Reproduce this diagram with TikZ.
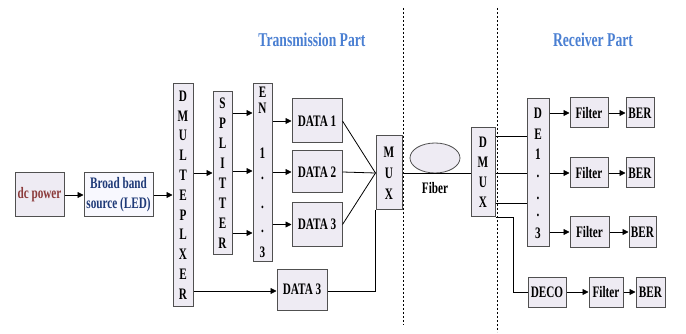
\documentclass[tikz,border=0pt]{standalone}
\usepackage{fontspec}
\setmainfont{Liberation Serif}[FakeStretch=0.7]
\usetikzlibrary{arrows.meta,shapes.geometric}
\definecolor{boxfill}{HTML}{EEEBF3}
\definecolor{boxline}{HTML}{505050}
\definecolor{titleblue}{HTML}{4A7FD2}
\definecolor{dcred}{HTML}{8B3A3A}
\definecolor{bbnavy}{HTML}{1F3A78}
\tikzset{
  blk/.style={draw=boxline, line width=1pt, fill=boxfill, inner sep=0pt, font=\fontsize{16}{20}\selectfont\bfseries},
  vtxt/.style={align=center, font=\fontsize{16}{20}\selectfont\bfseries},
  chr/.style={inner sep=0pt, font=\fontsize{16}{20}\selectfont\bfseries},
  arr/.style={line width=0.8pt, -{Triangle[length=6pt,width=6pt]}},
  ln/.style={line width=0.8pt},
  sep/.style={line width=1pt, dash pattern=on 2.2pt off 1.8pt},
  ttl/.style={text=titleblue, font=\fontsize{19.5}{22}\selectfont\bfseries}
}
\begin{document}
\begin{tikzpicture}[x=1pt,y=-1pt]
\useasboundingbox (0,0) rectangle (686,334);
% titles
\node[ttl] (t1) at (312,40) {Transmission Part};
\node[ttl] (t2) at (593,40) {Receiver Part};
% separators
\coordinate (s1a) at (403,8); \coordinate (s1b) at (403,325);
\coordinate (s2a) at (497,8); \coordinate (s2b) at (497,332);
\draw[sep] (s1a) -- (s1b);
\draw[sep] (s2a) -- (s2b);
% blocks
\node[blk, minimum width=49pt, minimum height=44pt, text=dcred] (dcp) at (39.5,195) {dc power};
\node[blk, minimum width=69pt, minimum height=44pt, text=bbnavy, align=center, fill=boxfill!70!blue!8] (bbs) at (118.5,195) {Broad band\\source (LED)};
\node[blk, minimum width=20pt, minimum height=222pt, align=center, font=\fontsize{16}{19.8}\selectfont\bfseries] (dmult) at (183,195) {D\\M\\U\\L\\T\\E\\P\\L\\X\\E\\R};
\node[blk, minimum width=19pt, minimum height=162pt, align=center] (split) at (222.5,173) {S\\P\\L\\I\\T\\T\\E\\R};
\node[blk, minimum width=19pt, minimum height=177pt] (en) at (262.5,172.5) {};
\node[chr] (en1) at (262.5,92) {E};
\node[chr] (en2) at (262.5,108) {N};
\node[chr] (en3) at (262.5,153) {1};
\node[chr] (en4) at (262.5,178) {.};
\node[chr] (en5) at (262.5,207) {.};
\node[chr] (en6) at (262.5,231) {.};
\node[chr] (en7) at (262.5,252) {3};
\node[blk, minimum width=50pt, minimum height=44pt] (d1) at (317,121) {DATA 1};
\node[blk, minimum width=50pt, minimum height=42pt] (d2) at (317,172) {DATA 2};
\node[blk, minimum width=50pt, minimum height=43pt] (d3) at (317,224.5) {DATA 3};
\node[blk, minimum width=50pt, minimum height=41pt] (d3b) at (302,289.5) {DATA 3};
\node[blk, minimum width=26pt, minimum height=74pt, align=center, font=\fontsize{16}{21}\selectfont\bfseries] (mux) at (389,173) {M\\U\\X};
\node[draw=boxline, line width=0.8pt, fill=boxfill, ellipse, minimum width=50pt, minimum height=30pt, inner sep=0pt] (fib) at (435,158) {};
\node[chr] (fibl) at (435,188) {Fiber};
\node[blk, minimum width=24pt, minimum height=89pt, align=center] (dmux) at (483,172.5) {D\\M\\U\\X};
\node[blk, minimum width=22pt, minimum height=147pt] (de) at (538,172.5) {};
\node[chr] (de1) at (538,113) {D};
\node[chr] (de2) at (538,134) {E};
\node[chr] (de3) at (538,154) {1};
\node[chr] (de4) at (538,176) {.};
\node[chr] (de5) at (538,198) {.};
\node[chr] (de6) at (538,215) {.};
\node[chr] (de7) at (538,233) {3};
\node[blk, minimum width=38pt, minimum height=30pt] (f1) at (589,113) {Filter};
\node[blk, minimum width=28pt, minimum height=30pt] (b1) at (640,113) {BER};
\node[blk, minimum width=38pt, minimum height=30pt] (f2) at (589,173) {Filter};
\node[blk, minimum width=28pt, minimum height=30pt] (b2) at (640,173) {BER};
\node[blk, minimum width=39pt, minimum height=30pt] (f3) at (589.5,232) {Filter};
\node[blk, minimum width=27pt, minimum height=30pt] (b3) at (642.5,232) {BER};
\node[blk, minimum width=38pt, minimum height=30pt] (deco) at (547,292) {DECO};
\node[blk, minimum width=34pt, minimum height=30pt] (f4) at (606,292) {Filter};
\node[blk, minimum width=29pt, minimum height=30pt] (b4) at (650.5,292) {BER};
% connectors
\draw[arr] (dcp) -- (bbs);
\draw[arr] (bbs) -- (bbs -| dmult.west);
\draw[arr] (dmult.east |- split.west) -- (split.west);
\draw[arr] (split.east |- 0,113) -- (en.west |- 0,113);
\draw[arr] (split.east |- 0,171) -- (en.west |- 0,171);
\draw[arr] (split.east |- 0,233) -- (en.west |- 0,233);
\draw[arr] (en.east |- d1.west) -- (d1.west);
\draw[arr] (en.east |- d2.west) -- (d2.west);
\draw[arr] (en.east |- d3.west) -- (d3.west);
\draw[ln] (d1.east) -- (mux.west);
\draw[ln] (d2.east) -- (mux.west);
\draw[ln] (d3.east) -- (mux.west);
\draw[arr] (dmult.east |- 0,291) -- (d3b.west |- 0,291);
\draw[ln] (d3b.east |- 0,291) -| (mux.south west);
\draw[ln] (mux.east) -- (dmux.west |- mux.east);
\draw[ln] (dmux.east |- 0,136) -- (de.west |- 0,136);
\draw[ln] (dmux.east |- 0,173) -- (de.west |- 0,173);
\draw[ln] (dmux.east |- 0,203) -- (de.west |- 0,203);
\draw[ln] (dmux.south east) -- ++(18,0) |- (deco.west);
\draw[arr] (de.east |- f1.west) -- (f1.west);
\draw[arr] (de.east |- f2.west) -- (f2.west);
\draw[arr] (de.east |- f3.west) -- (f3.west);
\draw[arr] (f1) -- (b1);
\draw[arr] (f2) -- (b2);
\draw[arr] (f3) -- (b3);
\draw[arr] (deco) -- (f4);
\draw[arr] (f4) -- (b4);
\end{tikzpicture}
\end{document}
